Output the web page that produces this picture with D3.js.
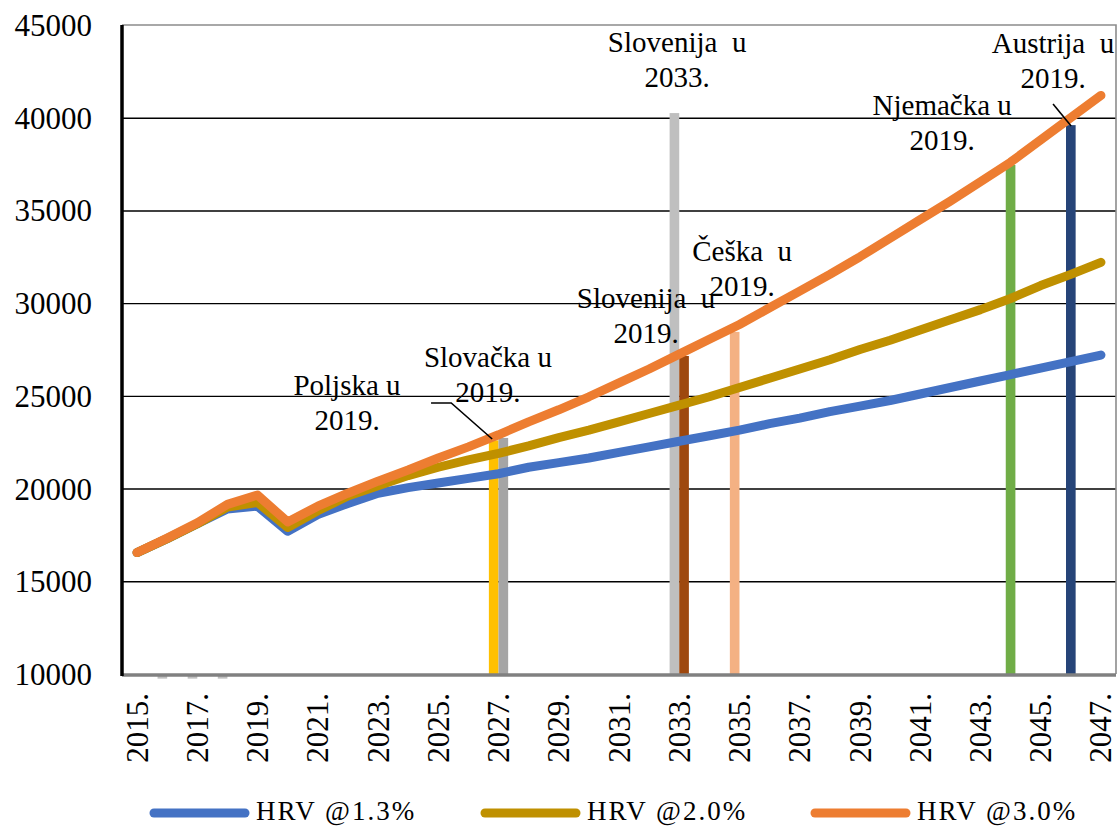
<!DOCTYPE html>
<html>
<head>
<meta charset="utf-8">
<script src="https://cdn.jsdelivr.net/npm/d3@7"></script>
<style>
  body { margin: 0; background: #fff; }
  text { font-family: "Liberation Serif", "Times New Roman", serif; fill: #000; }
</style>
</head>
<body>
<div id="root"></div>
<script>
// categories
const years = d3.range(2015, 2048);
const yTicks = [10000, 15000, 20000, 25000, 30000, 35000, 40000, 45000];

// series
const hrv13 = [16550, 17300, 18100, 18900, 19050, 17700, 18600, 19200, 19750, 20050, 20300,
  20550, 20800, 21150, 21400, 21650, 21950, 22250, 22550, 22850, 23150, 23500, 23800,
  24150, 24450, 24750, 25100, 25450, 25800, 26150, 26500, 26850, 27200];
const hrv20 = [16550, 17300, 18100, 19000, 19250, 17900, 18800, 19600, 20150, 20700, 21150,
  21550, 21900, 22300, 22750, 23150, 23600, 24050, 24500, 24950, 25450, 25950, 26450,
  26950, 27500, 28000, 28550, 29100, 29650, 30250, 30950, 31550, 32200];
const hrv30 = [16550, 17330, 18150, 19150, 19650, 18200, 19050, 19750, 20400, 21000, 21650,
  22250, 22900, 23600, 24250, 24950, 25700, 26450, 27250, 28050, 28850, 29750, 30650,
  31550, 32500, 33500, 34500, 35500, 36550, 37600, 38800, 40000, 41200];
const seriesNames = ["HRV @1.3%", "HRV @2.0%", "HRV @3.0%"];
const seriesColors = ["#4472C4", "#BF9000", "#ED7D31"];

// reference bars (level of other countries)
const barYears  = [2016, 2017, 2018, 2027, 2027, 2033, 2033, 2035, 2044, 2046];
const barValues = [9750, 9750, 9750, 22600, 22730, 40250, 27150, 28450, 37450, 39600];
const barSlots  = ["left", "left", "left", "left", "right", "left", "right", "left", "mid", "mid"];
const barColors = ["#BFBFBF", "#BFBFBF", "#BFBFBF", "#FFC000", "#A5A5A5", "#BFBFBF",
  "#9E480E", "#F4B183", "#70AD47", "#264478"];

// data labels: [year, value] of the first line's baseline
const labelTexts = [["Poljska u", "2019."], ["Slovačka u", "2019."], ["Slovenija\u00A0 u", "2033."],
  ["Slovenija\u00A0 u", "2019."], ["Češka\u00A0 u", "2019."], ["Njemačka u", "2019."],
  ["Austrija\u00A0 u", "2019."]];
const labelAt = [[2021.97, 25050], [2026.65, 26550], [2032.93, 43550], [2031.9, 29740],
  [2035.09, 32270], [2041.73, 40150], [2045.41, 43490]];
const leaders = [
  [[2024.76, 24615], [2025.43, 24615], [2026.79, 22673]],
  [[2045.41, 40740], [2046.01, 39553]]
];

const w = 1120, h = 827;
const margin = { top: 25, right: 4, bottom: 153, left: 122 };

const svg = d3.select("#root").append("svg")
  .attr("width", w).attr("height", h);

const x = d3.scaleBand().domain(years)
  .range([margin.left, w - margin.right]).padding(0);
const bw = x.bandwidth();
const xc = yr => x(2015) + bw / 2 + (yr - 2015) * bw;
const y = d3.scaleLinear().domain([10000, 45000])
  .range([h - margin.bottom, margin.top]);

// gridlines
svg.append("g")
  .attr("transform", "translate(" + margin.left + ",0)")
  .call(d3.axisLeft(y).tickValues(yTicks.slice(1, -1)).tickSize(-(w - margin.right - margin.left)).tickFormat(""))
  .call(g => g.select(".domain").remove())
  .call(g => g.selectAll("line").attr("stroke", "#000").attr("stroke-width", 1.4));

// frame top/right
svg.append("path")
  .attr("d", "M" + margin.left + "," + y(45000) + "H" + (w - margin.right) + "V" + y(10000))
  .attr("fill", "none").attr("stroke", "#8c8c8c").attr("stroke-width", 1.6);

// bars
const barW = bw * 0.32;
const slotOff = { left: -barW, right: 0, mid: -barW / 2 };
svg.append("g").selectAll("rect")
  .data(barYears)
  .join("rect")
  .attr("x", (d, i) => x(d) + bw / 2 + slotOff[barSlots[i]])
  .attr("width", barW)
  .attr("y", (d, i) => Math.min(y(barValues[i]), y(10000)))
  .attr("height", (d, i) => Math.abs(y(10000) - y(barValues[i])))
  .attr("fill", (d, i) => barColors[i]);

// y axis labels
svg.append("g")
  .attr("transform", "translate(" + margin.left + ",0)")
  .call(d3.axisLeft(y).tickValues(yTicks).tickSize(0).tickPadding(30).tickFormat(d => d))
  .call(g => g.select(".domain").remove())
  .call(g => g.selectAll("text").style("font-size", "31px")
    .style("font-family", "'Liberation Serif', serif").attr("dy", "0.34em"));

// x axis
const xAxis = svg.append("g")
  .attr("transform", "translate(0," + y(10000) + ")")
  .call(d3.axisBottom(x).tickValues(years.filter(d => d % 2 === 1)).tickSize(0).tickFormat(d => d + "."))
  .call(g => g.select(".domain").remove());
xAxis.selectAll("text")
  .attr("transform", "rotate(-90)")
  .attr("x", -19).attr("y", 0).attr("dy", "0.34em")
  .attr("text-anchor", "end")
  .style("font-size", "31px")
  .style("font-family", "'Liberation Serif', serif");

// axis lines
svg.append("line")
  .attr("x1", margin.left).attr("x2", w - margin.right)
  .attr("y1", y(10000) + 1).attr("y2", y(10000) + 1)
  .attr("stroke", "#808080").attr("stroke-width", 3.5);
svg.append("line")
  .attr("x1", margin.left).attr("x2", margin.left)
  .attr("y1", y(45000)).attr("y2", y(10000) + 2)
  .attr("stroke", "#000").attr("stroke-width", 3.5);

// lines
const line = d3.line().x((d, i) => x(years[i]) + bw / 2).y(d => y(d));
[hrv13, hrv20, hrv30].forEach((s, k) => {
  svg.append("path")
    .datum(s)
    .attr("d", line)
    .attr("fill", "none")
    .attr("stroke", seriesColors[k])
    .attr("stroke-width", 9)
    .attr("stroke-linejoin", "round")
    .attr("stroke-linecap", "round");
});

// leader lines
svg.append("g").selectAll("path")
  .data(leaders)
  .join("path")
  .attr("d", d3.line().x(p => xc(p[0])).y(p => y(p[1])))
  .attr("fill", "none").attr("stroke", "#000").attr("stroke-width", 1.6);

// data labels
const lab = svg.append("g").selectAll("text")
  .data(labelTexts)
  .join("text")
  .attr("text-anchor", "middle")
  .style("font-size", "29px")
  .attr("x", (d, i) => xc(labelAt[i][0]))
  .attr("y", (d, i) => y(labelAt[i][1]));
lab.selectAll("tspan")
  .data(d => d)
  .join("tspan")
  .attr("x", function() { return this.parentNode.getAttribute("x"); })
  .attr("dy", (d, j) => j === 0 ? 0 : 35)
  .text(d => d);

// legend
const legendX = [150, 481, 811];
const legend = svg.append("g").attr("id", "legend");
legend.selectAll("line")
  .data(seriesNames)
  .join("line")
  .attr("x1", (d, i) => legendX[i] + 4).attr("x2", (d, i) => legendX[i] + 95)
  .attr("y1", 813).attr("y2", 813)
  .attr("stroke", (d, i) => seriesColors[i])
  .attr("stroke-width", 9).attr("stroke-linecap", "round");
legend.selectAll("text")
  .data(seriesNames)
  .join("text")
  .attr("x", (d, i) => legendX[i] + 106)
  .attr("y", 820)
  .style("font-size", "27px")
  .style("letter-spacing", "2px")
  .text(d => d);
</script>
</body>
</html>
